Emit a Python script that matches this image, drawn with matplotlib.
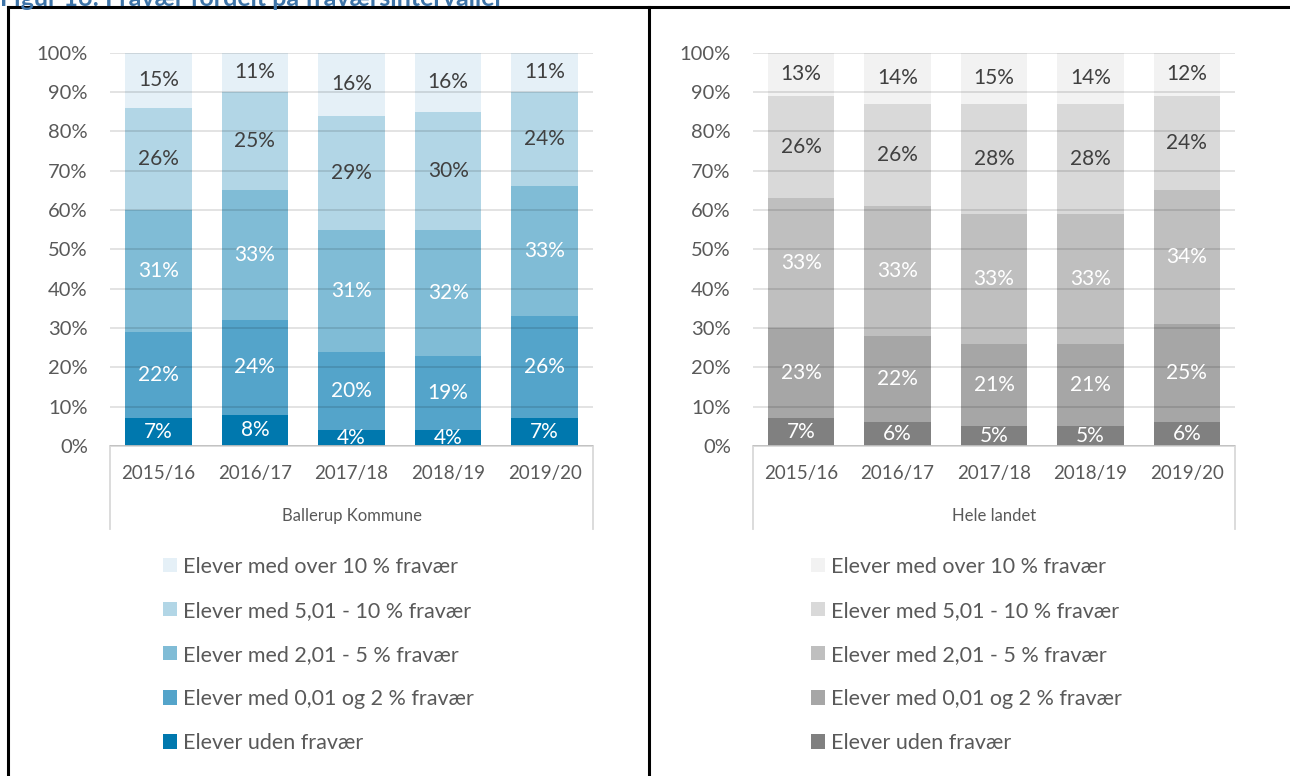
import matplotlib.pyplot as plt
import numpy as np
from matplotlib.lines import Line2D
from matplotlib.patches import Patch

plt.rcParams['font.family'] = ['Lato', 'DejaVu Sans']

years = ['2015/16', '2016/17', '2017/18', '2018/19', '2019/20']
series = ['Elever uden fravær', 'Elever med 0,01 og 2 % fravær',
          'Elever med 2,01 - 5 % fravær', 'Elever med 5,01 - 10 % fravær',
          'Elever med over 10 % fravær']

# Ballerup Kommune (%), bottom to top
ballerup_uden = [7, 8, 4, 4, 7]
ballerup_0_2 = [22, 24, 20, 19, 26]
ballerup_2_5 = [31, 33, 31, 32, 33]
ballerup_5_10 = [26, 25, 29, 30, 24]
ballerup_over10 = [15, 11, 16, 16, 11]

# Hele landet (%)
landet_uden = [7, 6, 5, 5, 6]
landet_0_2 = [23, 22, 21, 21, 25]
landet_2_5 = [33, 33, 33, 33, 34]
landet_5_10 = [26, 26, 28, 28, 24]
landet_over10 = [13, 14, 15, 14, 12]

blues = ['#0078AE', '#54A4CA', '#80BCD6', '#B2D6E6', '#E5F0F7']
greys = ['#808080', '#A6A6A6', '#BFBFBF', '#D9D9D9', '#F2F2F2']
label_colors = ['white', 'white', 'white', '#404040', '#404040']
txt = '#595959'

W, H = 1290, 776
fig = plt.figure(figsize=(W / 100, H / 100), dpi=100)


def px(x0, y0, x1, y1):
    return [x0 / W, 1 - y1 / H, (x1 - x0) / W, (y1 - y0) / H]


def panel(rect, data, colors, group, legend_x):
    ax = fig.add_axes(rect)
    x = np.arange(len(years))
    bottom = np.zeros(len(years))
    for vals, col, lc, name in zip(data, colors, label_colors, series):
        bars = ax.bar(x, vals, 0.69, bottom=bottom, color=col, label=name, zorder=1)
        ax.bar_label(bars, labels=[f'{v}%' for v in vals], label_type='center',
                     color=lc, fontsize=15)
        bottom += np.array(vals)
    ax.set_xlim(-0.5, len(years) - 0.5)
    ax.set_ylim(0, 100)
    ax.set_yticks(range(0, 101, 10))
    ax.set_yticklabels([f'{t}%' for t in range(0, 101, 10)])
    ax.set_axisbelow(False)
    ax.grid(axis='y', color='black', alpha=0.12, linewidth=1.3, zorder=2)
    ax.tick_params(axis='y', length=0, pad=16, labelsize=14.5, labelcolor=txt)
    ax.set_xticks([])
    for s in ['top', 'right', 'left']:
        ax.spines[s].set_visible(False)
    ax.spines['bottom'].set_color('#D9D9D9')
    ax.spines['bottom'].set_linewidth(1.3)
    trans = ax.get_xaxis_transform()
    for i, yr in enumerate(years):
        ax.text(i, -0.071, yr, transform=trans, ha='center', va='center',
                fontsize=13.5, color=txt)
    ax.text(0.5, -0.178, group, transform=ax.transAxes, ha='center', va='center',
            fontsize=12, color=txt)
    for xe in [0, 1]:
        ax.add_line(Line2D([xe, xe], [0, -0.21], transform=ax.transAxes,
                           color='#D9D9D9', linewidth=1.3, clip_on=False))
    handles = [Patch(facecolor=c) for c in colors[::-1]]
    fig.legend(handles, series[::-1], loc='upper left',
               bbox_to_anchor=(legend_x / W, 1 - 548 / H), frameon=False,
               fontsize=15.5, labelcolor=txt, handlelength=0.65, handleheight=0.65,
               handletextpad=0.3, labelspacing=1.12, borderaxespad=0)
    return ax


panel(px(110, 52.7, 593, 446),
      [ballerup_uden, ballerup_0_2, ballerup_2_5, ballerup_5_10, ballerup_over10],
      blues, 'Ballerup Kommune', 154)
panel(px(753, 52.7, 1235, 446),
      [landet_uden, landet_0_2, landet_2_5, landet_5_10, landet_over10],
      greys, 'Hele landet', 802)

# frame lines around the two panels
for xs, ys in [([8 / W, 8 / W], [0, 1 - 7 / H]),
               ([649 / W, 649 / W], [0, 1 - 7 / H]),
               ([8 / W, 1], [1 - 7 / H, 1 - 7 / H])]:
    fig.add_artist(Line2D(xs, ys, color='black', linewidth=2.2))

fig.text(0.0, 1 + 1 / H, 'Figur 16: Fravær fordelt på fraværsintervaller',
         ha='left', va='center', fontsize=18, fontweight='bold', color='#3E74A8')

fig.savefig('out.png', dpi=100)
